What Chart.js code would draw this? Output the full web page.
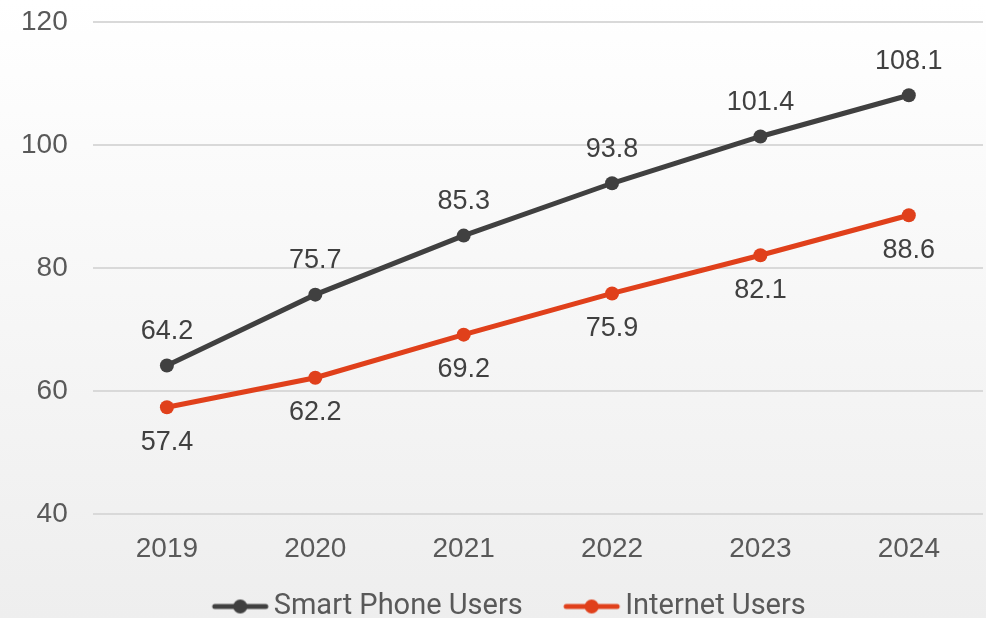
<!DOCTYPE html>
<html>
<head>
<meta charset="utf-8">
<script src="https://cdn.jsdelivr.net/npm/chart.js@4"></script>
<style>
  html, body { margin: 0; padding: 0; }
  body { width: 986px; height: 618px; overflow: hidden; background: linear-gradient(#ffffff, #eeeeee); }
  #wrap { width: 986px; height: 618px; }
</style>
</head>
<body>
<div id="wrap"><canvas id="usersChart" width="986" height="618"></canvas></div>
<script>
const years = ['2019', '2020', '2021', '2022', '2023', '2024'];
const smartPhoneUsers = [64.2, 75.7, 85.3, 93.8, 101.4, 108.1];
const internetUsers = [57.4, 62.2, 69.2, 75.9, 82.1, 88.6];
const yTicks = [40, 60, 80, 100, 120];

const darkGray = '#404040';
const orangeRed = '#e0401b';
const axisFont = '"Liberation Sans", Arial, sans-serif';

// legend box width; the marker image is wider and sits flush right
const legendBoxW = 78;

// legend marker: short line with a dot in the middle, padded on the left
function lineMarker(color) {
    const c = document.createElement('canvas');
    c.width = legendBoxW + 23;
    c.height = 16;
    const ctx = c.getContext('2d');
    const x0 = c.width - 59;
    ctx.strokeStyle = color;
    ctx.lineWidth = 5;
    ctx.lineCap = 'round';
    ctx.beginPath();
    ctx.moveTo(x0 + 3, 8);
    ctx.lineTo(x0 + 54, 8);
    ctx.stroke();
    ctx.fillStyle = color;
    ctx.beginPath();
    ctx.arc(x0 + 28.5, 8, 7, 0, Math.PI * 2);
    ctx.fill();
    return c;
}

// drop the label overhang so the layout padding alone places the plot
function noScalePadding(axis) {
    axis.paddingLeft = 0;
    axis.paddingRight = 0;
    axis.paddingTop = 0;
    axis.paddingBottom = 0;
}

// value labels: first series above the points, second below
const valueLabels = {
    id: 'valueLabels',
    afterDatasetsDraw(chart) {
        const ctx = chart.ctx;
        ctx.save();
        ctx.font = '27px ' + axisFont;
        ctx.fillStyle = '#404040';
        ctx.textAlign = 'center';
        ctx.textBaseline = 'middle';
        chart.data.datasets.forEach((ds, i) => {
            const meta = chart.getDatasetMeta(i);
            const offset = i === 0 ? -34 : 35;
            meta.data.forEach((pt, j) => {
                ctx.fillText(ds.data[j].toFixed(1), pt.x, pt.y + offset);
            });
        });
        ctx.restore();
    }
};

new Chart(document.getElementById('usersChart').getContext('2d'), {
    type: 'line',
    data: {
        labels: years,
        datasets: [{
            label: 'Smart Phone Users',
            data: smartPhoneUsers,
            borderColor: darkGray,
            backgroundColor: darkGray,
            borderWidth: 5,
            pointRadius: 7,
            pointBackgroundColor: darkGray,
            pointBorderWidth: 0,
            tension: 0
        }, {
            label: 'Internet Users',
            data: internetUsers,
            borderColor: orangeRed,
            backgroundColor: orangeRed,
            borderWidth: 5,
            pointRadius: 7,
            pointBackgroundColor: orangeRed,
            pointBorderWidth: 0,
            tension: 0
        }]
    },
    options: {
        responsive: false,
        animation: false,
        layout: {
            autoPadding: false,
            padding: { left: 4, right: 3, top: 22, bottom: -13 }
        },
        scales: {
            x: {
                offset: true,
                grid: { display: false, drawTicks: false },
                border: { display: false },
                ticks: {
                    color: '#595959',
                    padding: 18,
                    font: { family: axisFont, size: 28 }
                },
                afterFit(axis) {
                    axis.height -= 2;
                    noScalePadding(axis);
                }
            },
            y: {
                min: 40,
                max: 120,
                afterBuildTicks(axis) {
                    axis.ticks = yTicks.map(v => ({ value: v }));
                },
                grid: { color: '#d9d9d9', lineWidth: 2, drawTicks: false },
                border: { display: false },
                ticks: {
                    color: '#595959',
                    padding: 25,
                    font: { family: axisFont, size: 28 }
                },
                afterFit(axis) {
                    axis.width -= 8;
                    noScalePadding(axis);
                }
            }
        },
        plugins: {
            legend: {
                position: 'bottom',
                labels: {
                    usePointStyle: true,
                    pointStyleWidth: legendBoxW,
                    padding: 10,
                    color: '#595959',
                    font: { family: 'Roboto', size: 29 },
                    generateLabels(chart) {
                        return chart.data.datasets.map((ds, i) => ({
                            text: ds.label,
                            pointStyle: lineMarker(ds.borderColor),
                            fillStyle: ds.borderColor,
                            strokeStyle: ds.borderColor,
                            lineWidth: 0,
                            fontColor: '#595959',
                            datasetIndex: i
                        }));
                    }
                }
            },
            tooltip: { enabled: false }
        }
    },
    plugins: [valueLabels]
});
</script>
</body>
</html>
